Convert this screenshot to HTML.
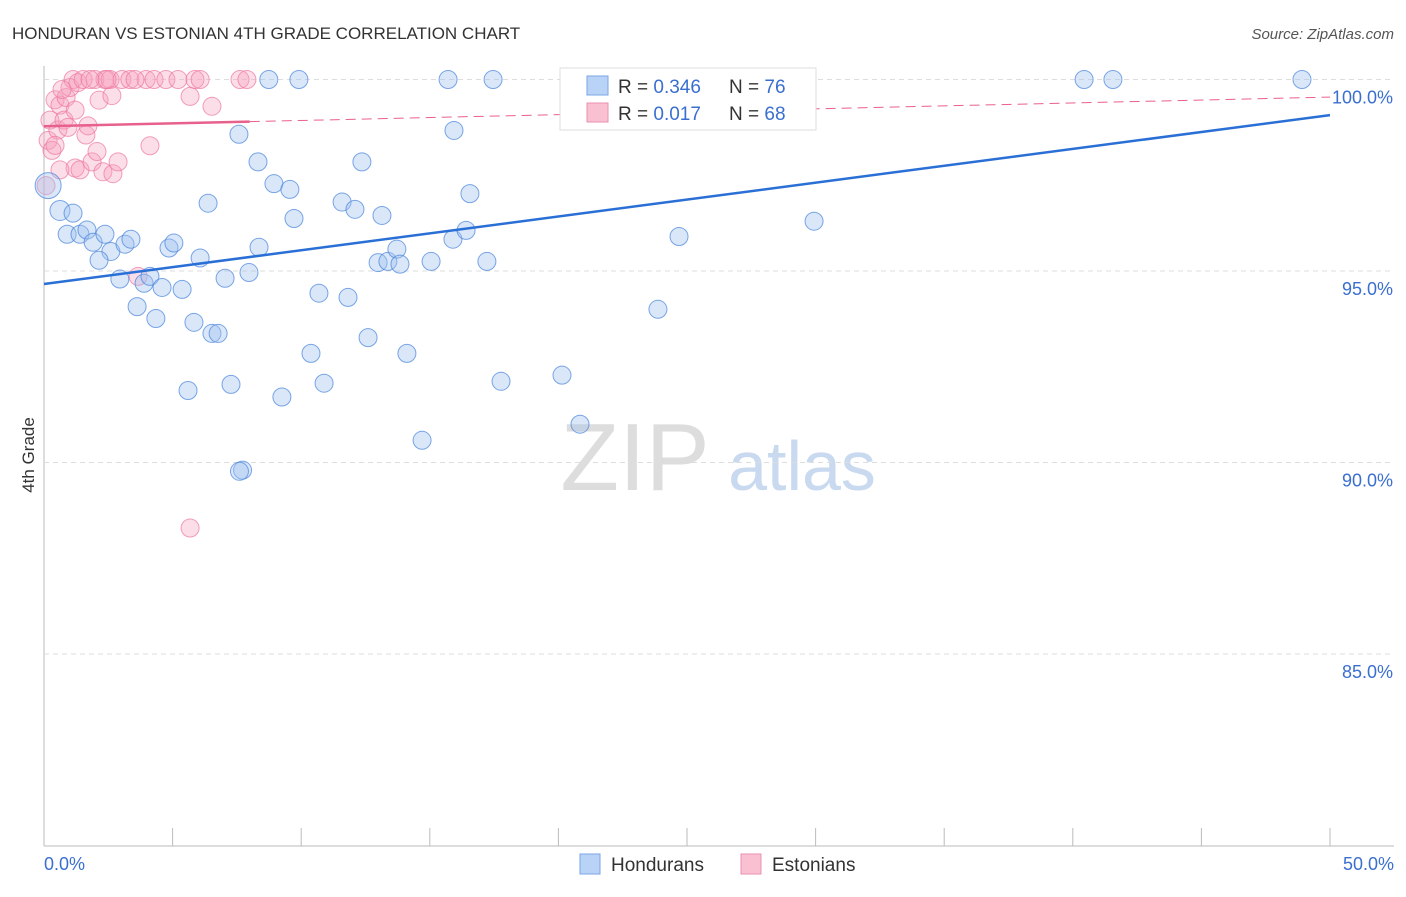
<!DOCTYPE html>
<html><head><meta charset="utf-8"><style>
body{margin:0;background:#fff;font-family:"Liberation Sans",sans-serif;}
svg text{font-family:"Liberation Sans",sans-serif;}
</style></head><body>
<svg id="chart" width="1406" height="892" viewBox="0 0 1406 892">
<text x="12" y="39" font-size="17" fill="#333">HONDURAN VS ESTONIAN 4TH GRADE CORRELATION CHART</text>
<text x="1394" y="39" font-size="15" fill="#555" font-style="italic" text-anchor="end">Source: ZipAtlas.com</text>
<text x="34" y="455" font-size="17" fill="#333" text-anchor="middle" transform="rotate(-90 34 455)">4th Grade</text>
<g><text x="635" y="490" font-size="96" fill="#ddd" text-anchor="middle" font-family="Liberation Serif">ZIP</text><text x="802" y="490" font-size="70" fill="#c8d9f0" text-anchor="middle">atlas</text></g>
<g id="grid"></g><g id="pts"></g><g id="lines"></g>
<g>
<rect x="560" y="68" width="256" height="62" fill="#fff" stroke="#ddd"/>
<rect x="587" y="76" width="21" height="19" fill="#b9d3f7" stroke="#7aa5e6"/>
<rect x="587" y="103" width="21" height="19" fill="#f9c0d2" stroke="#ec8fae"/>
<text x="618" y="93" font-size="19" fill="#333">R = <tspan fill="#3a6fd0">0.346</tspan></text>
<text x="729" y="93" font-size="19" fill="#333">N = <tspan fill="#3a6fd0">76</tspan></text>
<text x="618" y="120" font-size="19" fill="#333">R = <tspan fill="#3a6fd0"> 0.017</tspan></text>
<text x="729" y="120" font-size="19" fill="#333">N = <tspan fill="#3a6fd0">68</tspan></text>
</g>
<g>
<rect x="580" y="854" width="20" height="20" fill="#b9d3f7" stroke="#7aa5e6"/>
<text x="611" y="871" font-size="19" fill="#333">Hondurans</text>
<rect x="741" y="854" width="20" height="20" fill="#f9c0d2" stroke="#ec8fae"/>
<text x="772" y="871" font-size="19" fill="#333">Estonians</text>
</g>
<text x="44" y="870" font-size="18" fill="#3a6fd0">0.0%</text>
<text x="1394" y="870" font-size="18" fill="#3a6fd0" text-anchor="end">50.0%</text>
</svg>
<script>
const yTicks=[100,95,90,85];
const yTickLabels=["100.0%","95.0%","90.0%","85.0%"];
const blueX=[0.62,0.16,1.13,0.9,1.4,1.67,1.91,2.37,2.6,2.14,3.15,3.38,2.95,3.89,4.12,4.59,3.62,4.35,4.86,5.05,5.37,6.07,5.83,6.53,6.77,5.6,7.27,7.72,7.04,7.97,6.38,7.58,8.36,8.32,8.94,9.56,9.72,8.74,9.91,10.69,10.38,9.25,10.89,11.82,11.59,12.09,12.36,12.6,12.99,13.14,13.37,13.72,13.84,14.11,15.05,14.7,15.71,15.94,15.9,16.41,16.56,17.22,17.46,17.77,20.14,20.84,23.87,24.69,24.96,28.23,29.94,40.44,41.56,48.91,28.5,7.6];
const blueY=[96.58,97.23,96.51,95.96,95.96,96.07,95.75,95.96,95.51,95.28,95.7,95.83,94.79,94.68,94.86,94.57,94.07,93.76,95.6,95.73,94.52,95.34,93.66,93.37,93.37,91.88,92.04,89.8,94.81,94.96,96.77,98.57,95.62,97.85,97.28,97.13,96.37,100,100,94.42,92.85,91.71,92.07,94.31,96.8,96.61,97.85,93.26,95.22,96.45,95.25,95.57,95.18,92.85,95.25,90.58,100,98.67,95.83,96.06,97.02,95.25,100,92.12,92.28,91,94,95.9,100,100,96.3,100,100,100,100,89.77];
const blueR=[10,13,9,9,9,9,9,9,9,9,9,9,9,9,9,9,9,9,9,9,9,9,9,9,9,9,9,9,9,9,9,9,9,9,9,9,9,9,9,9,9,9,9,9,9,9,9,9,9,9,9,9,9,9,9,9,9,9,9,9,9,9,9,9,9,9,9,9,9,9,9,9,9,9,9,9];
const pinkX=[0.23,0.16,0.31,0.08,0.43,0.62,0.54,0.78,0.86,0.93,1.01,1.13,1.21,1.21,1.32,1.4,1.52,1.63,1.71,1.87,1.98,2.06,2.14,2.29,2.37,2.57,2.64,2.68,2.88,3.03,3.34,3.97,4.12,4.28,4.74,5.21,5.68,5.87,6.53,7.62,7.89,3.66,5.68,0.7,1.79,2.45,3.54,6.07,0.43,0.62];
const pinkY=[98.94,98.41,98.15,97.23,99.47,99.33,98.68,98.94,99.53,98.75,99.79,100,99.2,97.69,99.92,97.64,100,98.55,98.79,97.85,100,98.12,99.46,97.59,100,100,99.58,97.54,97.85,100,100,100,98.27,100,100,100,99.56,100,99.3,100,100,94.86,88.29,99.74,100,100,100,100,98.28,97.64];
const X0=44,X1=1330,YT=79.5,PX=38.3;
const xs=v=>X0+(X1-X0)*v/50, ys=v=>YT+(100-v)*PX;
const NS="http://www.w3.org/2000/svg";
function mk(t,a,p){const e=document.createElementNS(NS,t);for(const k in a)e.setAttribute(k,a[k]);p.appendChild(e);return e;}
const grid=document.getElementById('grid');
mk('line',{x1:44,y1:66,x2:44,y2:846,stroke:'#bbb'},grid);
mk('line',{x1:44,y1:846,x2:1394,y2:846,stroke:'#bbb'},grid);
for(let i=0;i<=10;i++){const x=X0+(X1-X0)*i/10;const t=mk('line',{x1:x,y1:828,x2:x,y2:846,stroke:'#bbb'},grid);

}
yTicks.forEach((v,i)=>{const g=mk('line',{x1:44,y1:ys(v),x2:1394,y2:ys(v),stroke:'#ddd','stroke-dasharray':'5,4'},grid);


const t=mk('text',{x:1393,y:ys(v)+24,'font-size':18,fill:'#3a6fd0','text-anchor':'end'},grid);t.textContent=yTickLabels[i];

});
const pts=document.getElementById('pts');
pinkX.forEach((v,i)=>{const c=mk('circle',{cx:xs(v),cy:ys(pinkY[i]),r:9,fill:'rgba(246,160,190,0.35)',stroke:'rgba(236,120,160,0.7)'},pts);

});
blueX.forEach((v,i)=>{const c=mk('circle',{cx:xs(v),cy:ys(blueY[i]),r:blueR[i],fill:'rgba(160,195,240,0.4)',stroke:'rgba(70,130,220,0.7)'},pts);

});
const lines=document.getElementById('lines');
const bl=mk('line',{x1:xs(0),y1:ys(94.66),x2:xs(50),y2:ys(99.07),stroke:'#2a6fd6','stroke-width':2.5},lines);


const pl=mk('line',{x1:xs(0),y1:ys(98.78),x2:xs(8),y2:ys(98.9),stroke:'#e8608c','stroke-width':2.5},lines);


const pd=mk('line',{x1:xs(8),y1:ys(98.9),x2:xs(50),y2:ys(99.54),stroke:'#e8608c','stroke-width':1,'stroke-dasharray':'10,6'},lines);


</script>
</body></html>
